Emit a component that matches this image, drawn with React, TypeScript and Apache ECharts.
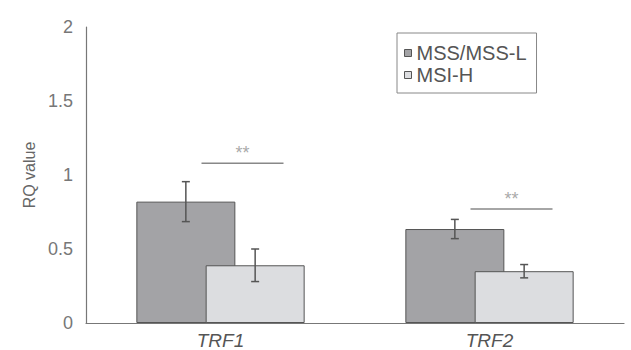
import React, { useEffect, useRef } from "react";
import * as echarts from "echarts";

const categories = ["TRF1", "TRF2"];
const seriesNames = ["MSS/MSS-L", "MSI-H"];
const mssValues = [0.82, 0.635];
const mssErrors = [0.135, 0.065];
const msiValues = [0.39, 0.35];
const msiErrors = [0.11, 0.045];
const sigLevels = [1.08, 0.77];
const sigLabels = ["**", "**"];

const BAR_W = 99;
const GAP = -0.3;
const OFFSET = (BAR_W * (2 + GAP)) / 2 - BAR_W / 2;

function errorSeries(values: number[], errors: number[], dx: number) {
  return {
    type: "custom",
    silent: true,
    z: 10,
    data: values.map((v, i) => [i, v - errors[i], v + errors[i]]),
    renderItem: (params: any, api: any) => {
      const lo = api.coord([api.value(0), api.value(1)]);
      const hi = api.coord([api.value(0), api.value(2)]);
      const x = lo[0] + dx;
      const cap = 4;
      const style = { stroke: "#555", lineWidth: 1.5 };
      return {
        type: "group",
        children: [
          { type: "line", shape: { x1: x, y1: lo[1], x2: x, y2: hi[1] }, style },
          { type: "line", shape: { x1: x - cap, y1: lo[1], x2: x + cap, y2: lo[1] }, style },
          { type: "line", shape: { x1: x - cap, y1: hi[1], x2: x + cap, y2: hi[1] }, style },
        ],
      };
    },
  };
}

export default function App() {
  const ref = useRef<HTMLDivElement>(null);
  useEffect(() => {
    if (!ref.current) return;
    const chart = echarts.init(ref.current, null, { renderer: "svg" });
    chart.setOption({
      animation: false,
      backgroundColor: "#ffffff",
      grid: { left: 86, right: 7, top: 27, bottom: 27, containLabel: false },
      legend: {
        orient: "vertical",
        left: 397,
        top: 33,
        icon: "rect",
        itemWidth: 7,
        itemHeight: 7,
        itemGap: 2,
        padding: [10, 10, 8, 7],
        borderColor: "#888",
        borderWidth: 1,
        textStyle: { fontSize: 20, color: "#555", fontFamily: "Liberation Sans" },
        data: [
          { name: seriesNames[0], itemStyle: { color: "#a3a3a6", borderColor: "#555", borderWidth: 1 } },
          { name: seriesNames[1], itemStyle: { color: "#dcdde0", borderColor: "#555", borderWidth: 1 } },
        ],
      },
      xAxis: {
        type: "category",
        data: categories,
        axisLine: { lineStyle: { color: "#777", width: 1.2 } },
        axisTick: { show: false },
        axisLabel: {
          fontSize: 19,
          fontStyle: "italic",
          color: "#555",
          fontFamily: "Liberation Sans",
          margin: 8,
        },
      },
      yAxis: {
        type: "value",
        min: 0,
        max: 2,
        interval: 0.5,
        name: "RQ value",
        nameLocation: "middle",
        nameRotate: 90,
        nameGap: 49,
        nameTextStyle: { fontSize: 16, color: "#666", fontFamily: "Liberation Sans" },
        axisLine: { show: true, lineStyle: { color: "#777", width: 1.2 } },
        axisTick: { show: false },
        splitLine: { show: false },
        axisLabel: { fontSize: 18, color: "#777", fontFamily: "Liberation Sans", margin: 13 },
      },
      series: [
        {
          name: seriesNames[0],
          type: "bar",
          data: mssValues,
          barWidth: BAR_W,
          barGap: "-30%",
          itemStyle: { color: "#a3a3a6", borderColor: "#555", borderWidth: 1 },
        },
        {
          name: seriesNames[1],
          type: "bar",
          data: msiValues,
          barWidth: BAR_W,
          barGap: "-30%",
          itemStyle: { color: "#dcdde0", borderColor: "#555", borderWidth: 1 },
        },
        errorSeries(mssValues, mssErrors, -OFFSET),
        errorSeries(msiValues, msiErrors, OFFSET),
        {
          type: "custom",
          silent: true,
          z: 10,
          data: sigLevels.map((v, i) => [i, v]),
          renderItem: (params: any, api: any) => {
            const p = api.coord([api.value(0), api.value(1)]);
            const x1 = p[0] - 19;
            const x2 = p[0] + 63;
            return {
              type: "group",
              children: [
                { type: "line", shape: { x1, y1: p[1], x2, y2: p[1] }, style: { stroke: "#888", lineWidth: 1.5 } },
                {
                  type: "text",
                  x: (x1 + x2) / 2,
                  y: p[1] - 10,
                  style: {
                    text: sigLabels[params.dataIndex],
                    fontSize: 18,
                    fill: "#aaa",
                    align: "center",
                    verticalAlign: "middle",
                    fontFamily: "Liberation Sans",
                  },
                },
              ],
            };
          },
        },
      ],
    });
    return () => chart.dispose();
  }, []);
  return <div ref={ref} style={{ position: "fixed", left: 0, top: 0, width: 631, height: 350 }} />;
}
